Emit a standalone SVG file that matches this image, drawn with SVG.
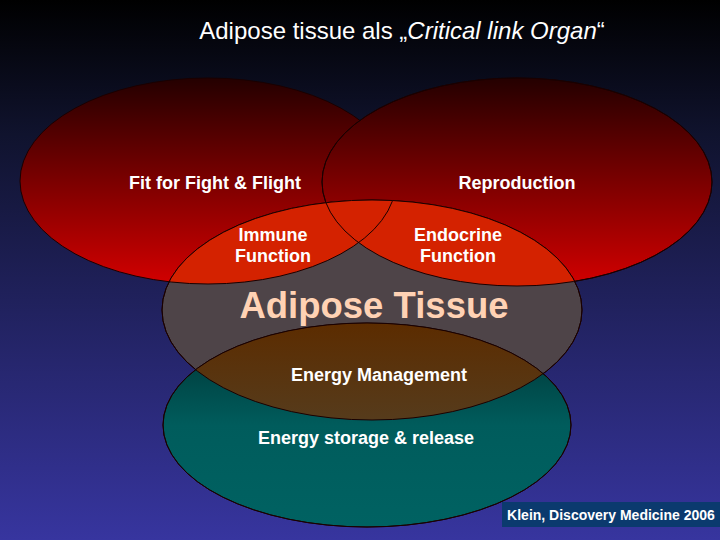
<svg xmlns="http://www.w3.org/2000/svg" width="720" height="540" viewBox="0 0 720 540">
<defs>
<linearGradient id="bg" x1="0" y1="0" x2="0" y2="1">
<stop offset="0" stop-color="#000000"/>
<stop offset="0.25" stop-color="#10132e"/>
<stop offset="1" stop-color="#37359f"/>
</linearGradient>
<linearGradient id="red" x1="0" y1="0" x2="0" y2="1">
<stop offset="0" stop-color="#240000"/>
<stop offset="1" stop-color="#d20000"/>
</linearGradient>
<linearGradient id="teal" x1="0" y1="0" x2="0" y2="1">
<stop offset="0" stop-color="#003030"/>
<stop offset="0.5" stop-color="#005c5c"/>
<stop offset="1" stop-color="#006262"/>
</linearGradient>
<linearGradient id="brown" x1="0" y1="0" x2="0" y2="1">
<stop offset="0" stop-color="#5c2c00"/>
<stop offset="1" stop-color="#4f4c3a"/>
</linearGradient>
<clipPath id="clipGray"><ellipse cx="372" cy="310" rx="210" ry="110"/></clipPath>
<style>
.edge{stroke:#1a0000;stroke-width:1}
.lbl{font-family:"Liberation Sans",Arial,sans-serif;font-weight:bold;font-size:18px;fill:#ffffff;text-anchor:middle}
</style>
</defs>
<rect x="0" y="0" width="720" height="540" fill="url(#bg)"/>
<text x="402" y="39" font-family="'Liberation Sans',Arial,sans-serif" font-size="24" fill="#ffffff" text-anchor="middle">Adipose tissue als „<tspan font-style="italic">Critical link Organ</tspan>“</text>
<g id="fight">
<ellipse cx="208" cy="181" rx="188" ry="103" fill="url(#red)" class="edge"/>
</g>
<g id="reproduction">
<ellipse cx="517" cy="182" rx="195" ry="104" fill="url(#red)" class="edge"/>
</g>
<g id="adipose">
<ellipse cx="372" cy="310" rx="210" ry="110" fill="#4e4448" class="edge"/>
</g>
<g id="energy">
<ellipse cx="367" cy="425" rx="204" ry="102" fill="url(#teal)" class="edge"/>
</g>
<g id="overlaps">
<g clip-path="url(#clipGray)">
<ellipse cx="208" cy="181" rx="188" ry="103" fill="#d42200"/>
<ellipse cx="517" cy="182" rx="195" ry="104" fill="#d42200"/>
<ellipse cx="367" cy="425" rx="204" ry="102" fill="url(#brown)"/>
</g>
<g fill="none" class="edge">
<ellipse cx="372" cy="310" rx="210" ry="110"/>
<ellipse cx="367" cy="425" rx="204" ry="102"/>
<ellipse cx="517" cy="182" rx="195" ry="104"/>
<ellipse cx="208" cy="181" rx="188" ry="103" clip-path="url(#clipGray)"/>
</g>
</g>
<g id="labels">
<text class="lbl" x="215" y="189">Fit for Fight &amp; Flight</text>
<text class="lbl" x="517" y="189">Reproduction</text>
<text class="lbl" x="273" y="241">Immune</text>
<text class="lbl" x="273" y="262">Function</text>
<text class="lbl" x="458" y="241">Endocrine</text>
<text class="lbl" x="458" y="262">Function</text>
<text x="374" y="318" font-family="'Liberation Sans',Arial,sans-serif" font-weight="bold" font-size="36.5" fill="#ffd2b4" text-anchor="middle">Adipose Tissue</text>
<text class="lbl" x="379" y="381">Energy Management</text>
<text class="lbl" x="366" y="444">Energy storage &amp; release</text>
</g>
<g id="citation">
<rect x="502" y="502" width="218" height="25" fill="#0b3a6e"/>
<text x="611" y="520" font-family="'Liberation Sans',Arial,sans-serif" font-weight="bold" font-size="14" fill="#ffffff" text-anchor="middle">Klein, Discovery Medicine 2006</text>
</g>
</svg>
